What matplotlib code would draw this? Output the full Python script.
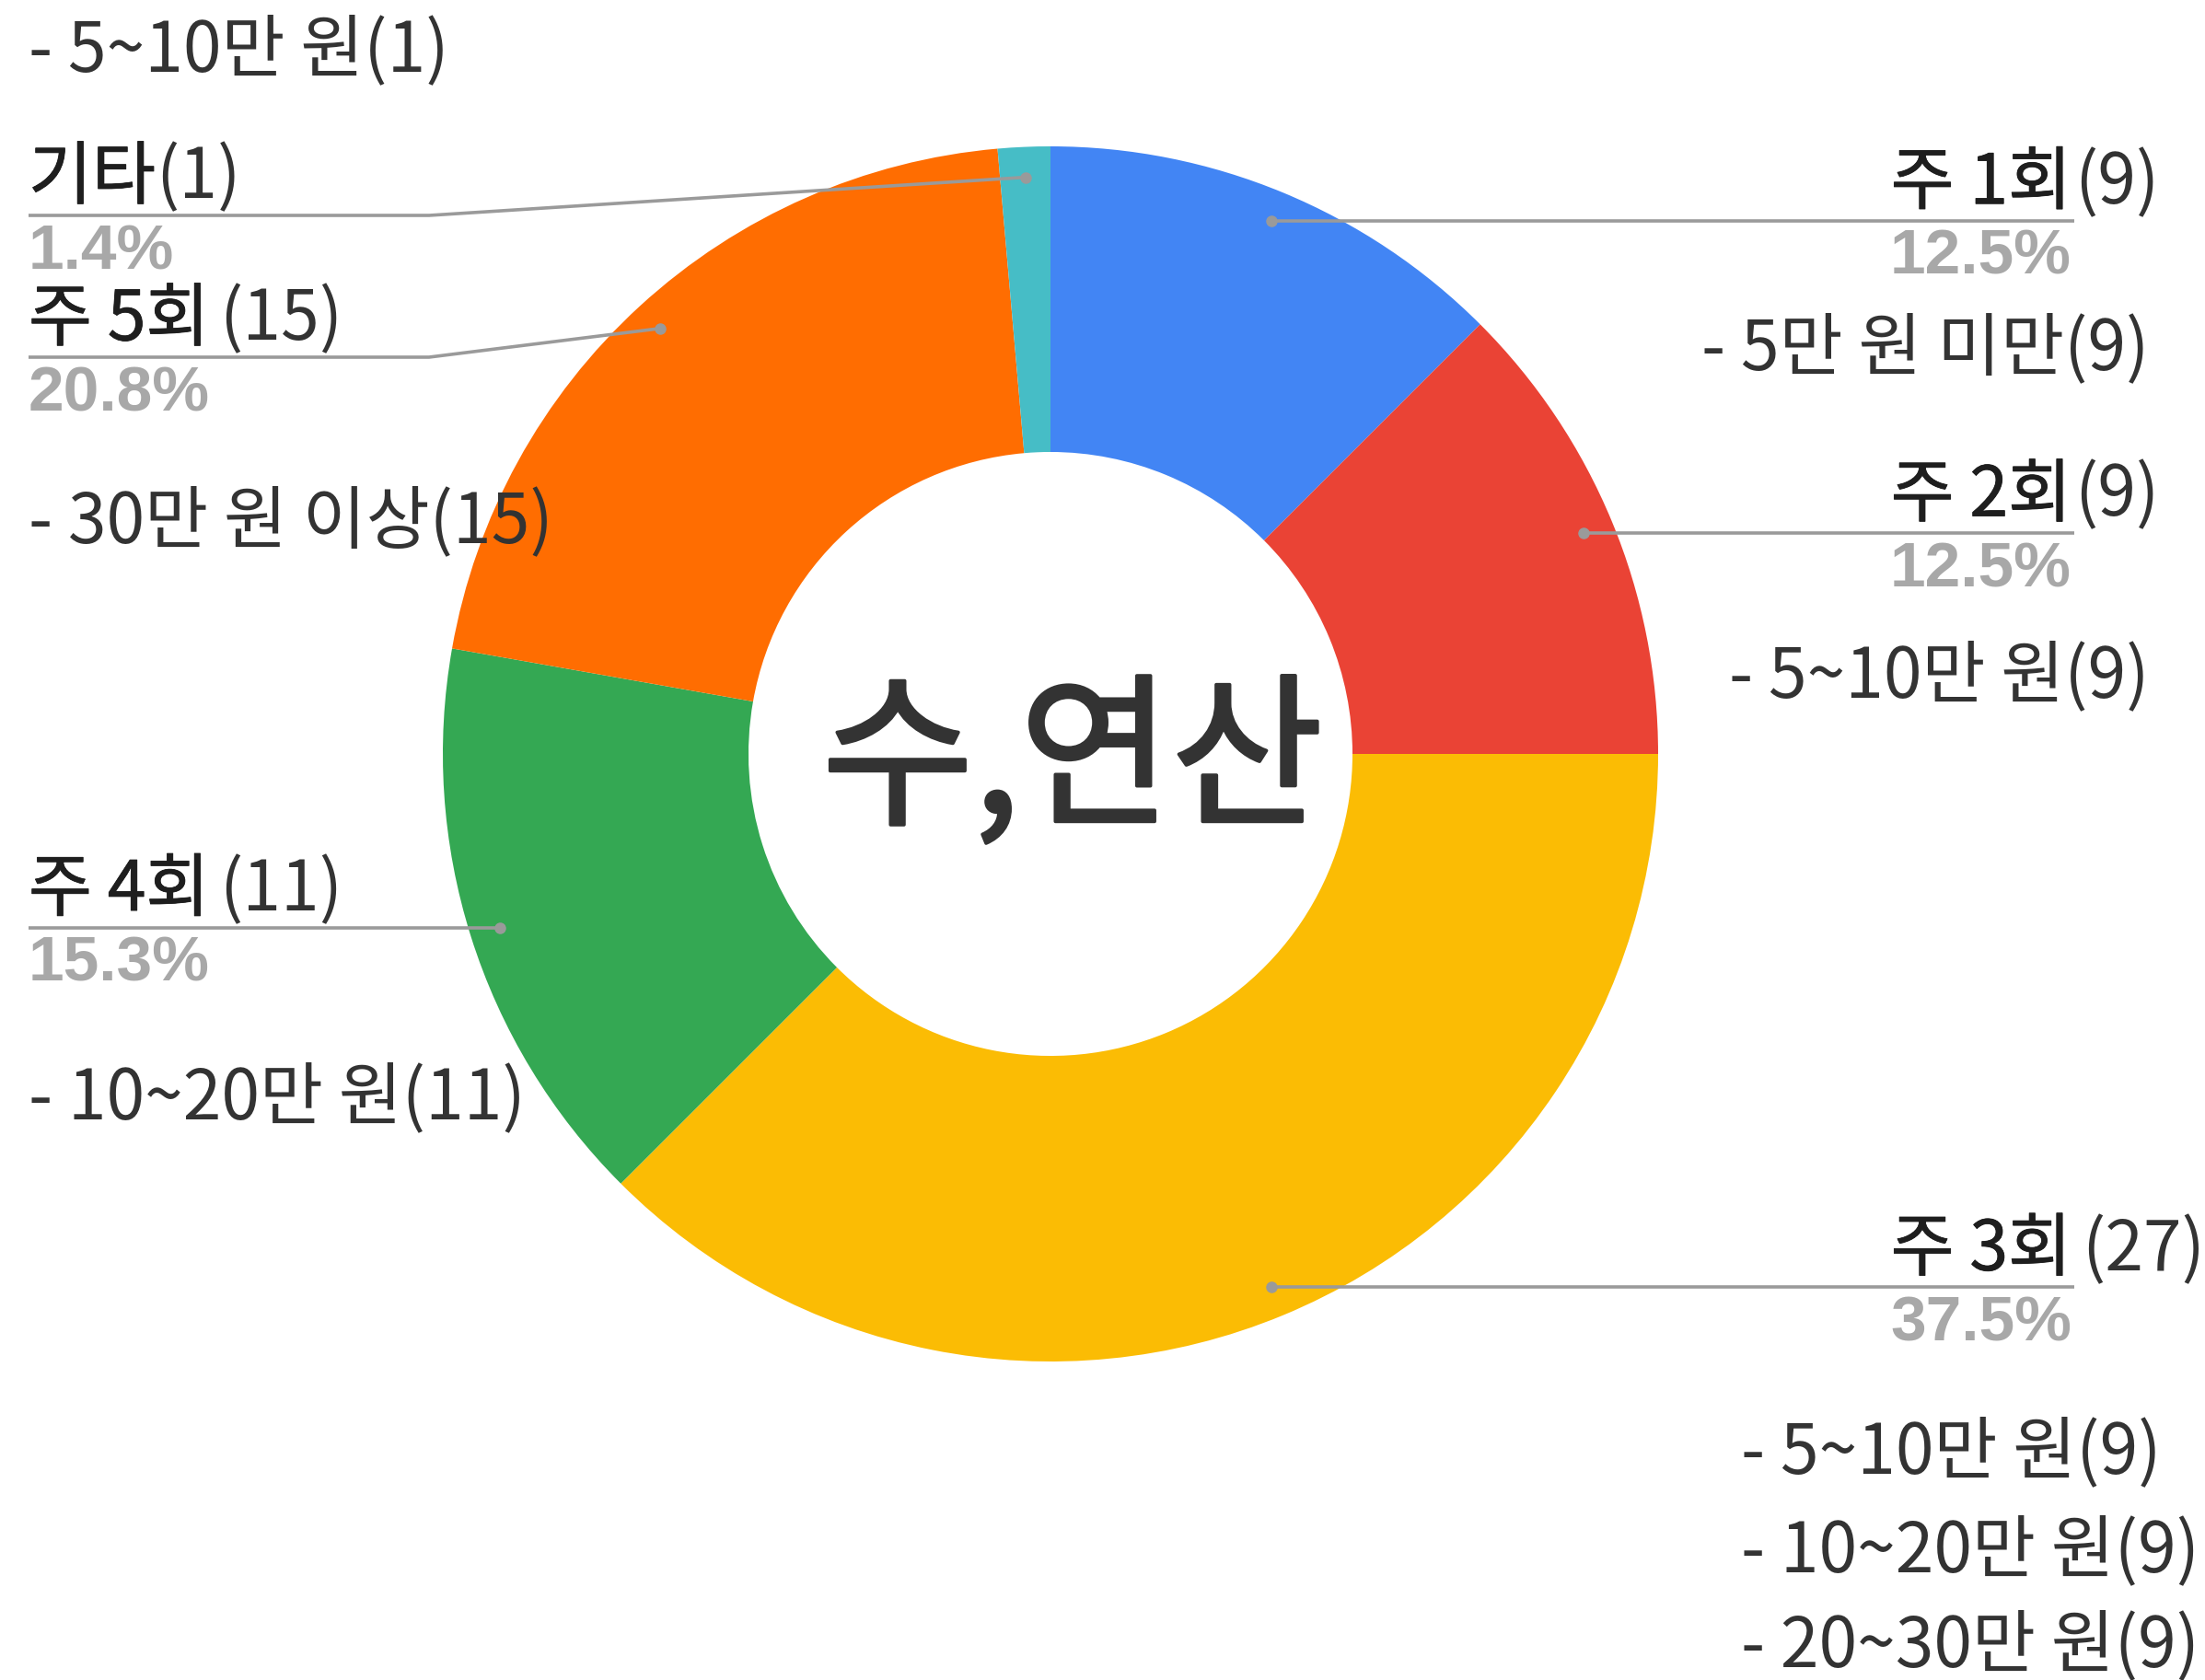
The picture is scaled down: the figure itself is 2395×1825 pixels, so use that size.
import numpy as np
import matplotlib
matplotlib.use("Agg")
import matplotlib.pyplot as plt
import matplotlib.patheffects as pe

plt.rcParams['font.family'] = ['Noto Sans CJK KR', 'DejaVu Sans']

# data
categories = ["주 1회", "주 2회", "주 3회", "주 4회", "주 5회", "기타"]
counts = [9, 9, 27, 11, 15, 1]
colors = ["#4285F4", "#EA4335", "#FBBC04", "#34A853", "#FF6D01", "#46BDC6"]
center_title = "수,연산"
details = [
    ["- 5만 원 미만(9)"],
    ["- 5~10만 원(9)"],
    ["- 5~10만 원(9)", "- 10~20만 원(9)", "- 20~30만 원(9)"],
    ["- 10~20만 원(11)"],
    ["- 30만 원 이상(15)"],
    ["- 5~10만 원(1)"],
]

W, H = 2395, 1825
fig = plt.figure(figsize=(W / 100, H / 100), dpi=100)
ax = fig.add_axes([0, 0, 1, 1])

def Y(p):
    # pixel row -> data y
    return H - p

cx, cy, R = 1141, Y(819), 660
ax.pie(counts, colors=colors, startangle=90, counterclock=False,
       center=(cx, cy), radius=R,
       wedgeprops=dict(width=R * 0.503, linewidth=0))
ax.set_xlim(0, W)
ax.set_ylim(0, H)
ax.set_aspect('equal')
ax.axis('off')

ax.text(cx + 24, cy - 12, center_title, ha='center', va='center',
        fontsize=129, color='#333333',
        path_effects=[pe.withStroke(linewidth=2.6, foreground='#333333')])

total = sum(counts)
cum = np.cumsum([0] + counts[:-1])
mids = [(c + v / 2) / total * 2 * np.pi for c, v in zip(cum, counts)]

# layout: side, line row (None = dot height), elbow x, gap before count (pt)
layout = {
    "주 1회": ("right", None, None, 2),
    "주 2회": ("right", None, None, 2),
    "주 3회": ("right", None, None, 8),
    "주 4회": ("left", None, None, 8),
    "주 5회": ("left", 388, 466, 8),
    "기타": ("left", 234, 466, 0),
}
# detail text positions (x, row, align)
detail_pos = {
    "주 1회": [(2334, 380, 'right')],
    "주 2회": [(2334, 736, 'right')],
    "주 3회": [(1891, 1579, 'left'), (1891, 1686, 'left'), (1891, 1789, 'left')],
    "주 4회": [(31, 1194, 'left')],
    "주 5회": [(31, 568, 'left')],
    "기타": [(31, 56, 'left')],
}

lab_fs = 54
line_c = '#9A9A9A'
for i, cat in enumerate(categories):
    th = mids[i]
    dx = cx + 0.95 * R * np.sin(th)
    dy = cy + 0.95 * R * np.cos(th)
    side, row, elbow, gap = layout[cat]
    ly = dy if row is None else Y(row)
    pct = "{:.1f}%".format(counts[i] / total * 100)
    cnt = "({})".format(counts[i])
    if side == "right":
        xs, ys = [dx, 2253], [ly, ly]
        tx, ha = 2250, 'right'
    else:
        if elbow is None:
            xs, ys = [dx, 31], [ly, ly]
        else:
            xs, ys = [dx, elbow, 31], [dy, ly, ly]
        tx, ha = 31, 'left'
    ax.plot(xs, ys, color=line_c, lw=2.6, solid_capstyle='butt', zorder=3)
    ax.plot([dx], [dy], 'o', color=line_c, ms=8, zorder=4)
    name = ax.text(tx, ly + 40, cat, ha=ha, va='center', fontsize=lab_fs,
                   color='#1E1E1E',
                   path_effects=[pe.withStroke(linewidth=0.6, foreground='#1E1E1E')])
    ax.annotate(cnt, xy=(1, 0), xycoords=name, xytext=(gap, 0),
                textcoords='offset points', ha='left', va='bottom',
                fontsize=lab_fs, color='#333333')
    ax.text(tx, ly - 40, pct, ha=ha, va='center', fontsize=50,
            color='#A8A8A8', fontweight='bold', family='Liberation Sans')
    for j, (x, r, al) in enumerate(detail_pos[cat]):
        ax.text(x, Y(r), details[i][j], ha=al, va='center',
                fontsize=lab_fs, color='#333333')

fig.savefig("out.png", dpi=100)
